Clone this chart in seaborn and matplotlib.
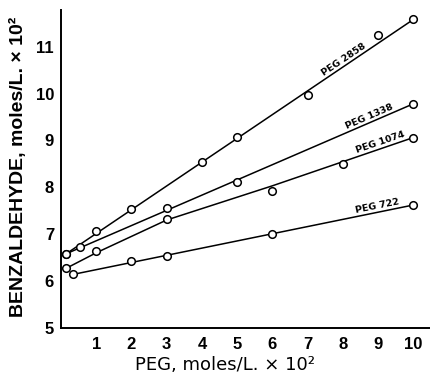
import numpy as np
import pandas as pd
import matplotlib
matplotlib.use("Agg")
import matplotlib.pyplot as plt
import seaborn as sns

sns.set_theme(style="white")
plt.rcParams['font.family'] = ['Liberation Sans', 'DejaVu Sans']

series_names = ["PEG 2858", "PEG 1338", "PEG 1074", "PEG 722"]
x_2858 = [0.15, 1, 2, 4, 5, 7, 9, 10]
y_2858 = [6.58, 7.07, 7.54, 8.54, 9.08, 9.97, 11.24, 11.58]
x_1338 = [0.15, 0.55, 3, 5, 10]
y_1338 = [6.58, 6.72, 7.55, 8.11, 9.78]
x_1074 = [0.15, 1, 3, 6, 8, 10]
y_1074 = [6.27, 6.63, 7.32, 7.92, 8.50, 9.06]
x_722 = [0.35, 2, 3, 6, 10]
y_722 = [6.14, 6.43, 6.53, 7.00, 7.62]

# Hand-drawn fit lines
fit_x_2858 = [0.15, 10]
fit_y_2858 = [6.58, 11.58]
fit_x_1338 = [0.15, 10]
fit_y_1338 = [6.58, 9.78]
fit_x_1074 = [0.15, 1, 3, 6, 10]
fit_y_1074 = [6.27, 6.60, 7.30, 8.03, 9.06]
fit_x_722 = [0.35, 10]
fit_y_722 = [6.14, 7.62]

label_x = [8.1, 8.8, 9.1, 9.0]

x_ticks = [1, 2, 3, 4, 5, 6, 7, 8, 9, 10]
y_ticks = [5, 6, 7, 8, 9, 10, 11]

xs = [x_2858, x_1338, x_1074, x_722]
ys = [y_2858, y_1338, y_1074, y_722]
fxs = [fit_x_2858, fit_x_1338, fit_x_1074, fit_x_722]
fys = [fit_y_2858, fit_y_1338, fit_y_1074, fit_y_722]

fig = plt.figure(figsize=(4.31, 3.75), dpi=100)
ax = fig.add_axes([0.1415, 0.126, 0.86, 0.847])

for name, xv, yv, fx, fy, lx in zip(series_names, xs, ys, fxs, fys, label_x):
    df = pd.DataFrame({"x": xv, "y": yv})
    fit = pd.DataFrame({"x": fx, "y": fy})
    sns.lineplot(data=fit, x="x", y="y", ax=ax, color="black", lw=1.1,
                 estimator=None, sort=False)
    sns.scatterplot(data=df, x="x", y="y", ax=ax, s=30, facecolor="white",
                    edgecolor="black", linewidth=1.1, zorder=3)
    ly = np.interp(lx, fx, fy)
    i = int(np.searchsorted(fx, lx)) - 1
    i = max(0, min(i, len(fx) - 2))
    slope = (fy[i + 1] - fy[i]) / (fx[i + 1] - fx[i])
    ang = np.degrees(np.arctan(slope))
    ax.text(lx, ly + 0.03, name, rotation=ang, transform_rotates_text=True,
            rotation_mode="anchor", ha="center", va="bottom",
            fontsize=6.8, fontweight="bold", color="black",
            family=["DejaVu Sans"])

ax.set_xlim(0, 10.52)
ax.set_ylim(5, 11.78)
ax.set_xticks(x_ticks)
ax.set_yticks(y_ticks)
ax.set_xticklabels([str(t) for t in x_ticks], fontsize=12, fontweight="bold")
ax.set_yticklabels([str(t) for t in y_ticks], fontsize=12, fontweight="bold")
ax.tick_params(axis="x", direction="in", length=3, width=1, pad=7, colors="black")
ax.tick_params(axis="y", direction="out", length=3, width=1, pad=2, colors="black")
for s in ["top", "right"]:
    ax.spines[s].set_visible(False)
for s in ["left", "bottom"]:
    ax.spines[s].set_color("black")
    ax.spines[s].set_linewidth(1.4)

ax.set_xlabel("PEG, moles/L. × 10²", fontsize=13, color="black",
              family=["DejaVu Sans"])
ax.xaxis.set_label_coords(0.442, -0.09)
ax.set_ylabel("BENZALDEHYDE, moles/L. × 10²", fontsize=14, fontweight="bold",
              color="black")
ax.yaxis.set_label_coords(-0.092, 0.505)

fig.savefig("out.png", dpi=100)
